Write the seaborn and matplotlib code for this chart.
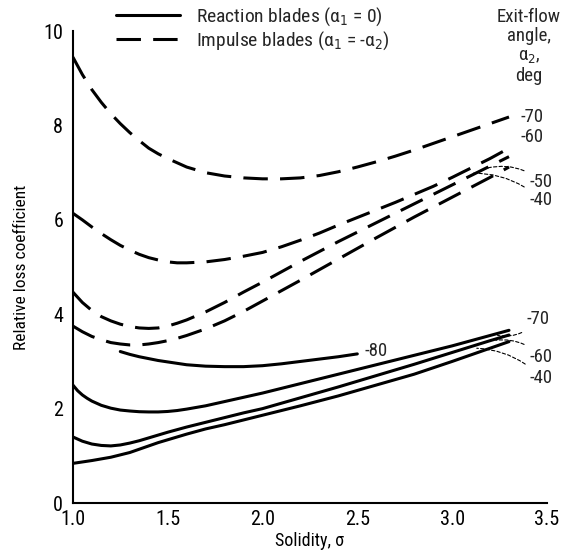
import numpy as np
import pandas as pd
import matplotlib
matplotlib.use("Agg")
import matplotlib.pyplot as plt
from matplotlib.lines import Line2D
from matplotlib import font_manager
import seaborn as sns

# ---- data ----
imp70_x = [1.0, 1.05, 1.1, 1.15, 1.2, 1.25, 1.3, 1.35, 1.4, 1.45, 1.5, 1.6, 1.7, 1.8, 1.9, 2.0, 2.1, 2.2, 2.3, 2.4, 2.5, 2.6, 2.7, 2.8, 2.9, 3.0, 3.1, 3.2, 3.3]
imp70_y = [9.45, 9.08, 8.76, 8.49, 8.25, 8.04, 7.85, 7.68, 7.52, 7.40, 7.30, 7.12, 7.00, 6.93, 6.89, 6.87, 6.87, 6.89, 6.94, 7.02, 7.12, 7.23, 7.35, 7.48, 7.62, 7.76, 7.90, 8.04, 8.18]

imp60_x = [1.0, 1.05, 1.1, 1.15, 1.2, 1.25, 1.3, 1.35, 1.4, 1.45, 1.5, 1.55, 1.6, 1.65, 1.7, 1.8, 1.9, 2.0, 2.1, 2.2, 2.3, 2.4, 2.5, 2.6, 2.7, 2.8, 2.9, 3.0, 3.1, 3.2, 3.3]
imp60_y = [6.14, 6.00, 5.85, 5.71, 5.58, 5.46, 5.36, 5.27, 5.20, 5.15, 5.11, 5.09, 5.09, 5.10, 5.11, 5.16, 5.23, 5.31, 5.43, 5.57, 5.72, 5.89, 6.05, 6.21, 6.37, 6.54, 6.71, 6.90, 7.10, 7.30, 7.52]

imp50_x = [1.0, 1.05, 1.1, 1.15, 1.2, 1.25, 1.3, 1.35, 1.4, 1.45, 1.5, 1.55, 1.6, 1.7, 1.8, 1.9, 2.0, 2.2, 2.4, 2.6, 2.8, 3.0, 3.2, 3.3]
imp50_y = [4.47, 4.25, 4.08, 3.95, 3.86, 3.79, 3.74, 3.71, 3.70, 3.71, 3.75, 3.81, 3.88, 4.05, 4.25, 4.47, 4.68, 5.12, 5.54, 5.94, 6.34, 6.74, 7.14, 7.34]

imp40_x = [1.0, 1.05, 1.1, 1.15, 1.2, 1.25, 1.3, 1.35, 1.4, 1.45, 1.5, 1.55, 1.6, 1.7, 1.8, 1.9, 2.0, 2.2, 2.4, 2.6, 2.8, 3.0, 3.2, 3.3]
imp40_y = [3.75, 3.63, 3.53, 3.46, 3.40, 3.37, 3.35, 3.35, 3.37, 3.40, 3.44, 3.49, 3.55, 3.69, 3.86, 4.06, 4.28, 4.72, 5.17, 5.62, 6.06, 6.48, 6.90, 7.12]

rea80_x = [1.25, 1.3, 1.35, 1.4, 1.45, 1.5, 1.55, 1.6, 1.65, 1.7, 1.8, 1.9, 2.0, 2.1, 2.2, 2.3, 2.4, 2.5]
rea80_y = [3.21, 3.15, 3.10, 3.06, 3.02, 2.99, 2.96, 2.93, 2.915, 2.90, 2.89, 2.89, 2.91, 2.95, 3.00, 3.05, 3.10, 3.16]

rea70_x = [1.0, 1.025, 1.05, 1.075, 1.1, 1.15, 1.2, 1.25, 1.3, 1.35, 1.4, 1.45, 1.5, 1.55, 1.6, 1.7, 1.8, 1.9, 2.0, 2.2, 2.4, 2.6, 2.8, 3.0, 3.2, 3.3]
rea70_y = [2.50, 2.38, 2.29, 2.22, 2.16, 2.07, 2.01, 1.97, 1.95, 1.935, 1.93, 1.93, 1.94, 1.96, 1.99, 2.06, 2.15, 2.24, 2.33, 2.53, 2.73, 2.93, 3.13, 3.33, 3.55, 3.66]

rea60_x = [1.0, 1.05, 1.1, 1.15, 1.2, 1.25, 1.3, 1.35, 1.4, 1.45, 1.5, 1.6, 1.7, 1.8, 1.9, 2.0, 2.2, 2.4, 2.6, 2.8, 3.0, 3.2, 3.3]
rea60_y = [1.40, 1.31, 1.25, 1.22, 1.21, 1.23, 1.27, 1.32, 1.38, 1.44, 1.50, 1.61, 1.71, 1.81, 1.91, 2.00, 2.23, 2.46, 2.70, 2.94, 3.19, 3.44, 3.56]

rea40_x = [1.0, 1.1, 1.2, 1.3, 1.35, 1.4, 1.45, 1.5, 1.6, 1.7, 1.8, 1.9, 2.0, 2.2, 2.4, 2.6, 2.8, 3.0, 3.2, 3.3]
rea40_y = [0.84, 0.90, 0.97, 1.07, 1.14, 1.21, 1.28, 1.34, 1.46, 1.57, 1.66, 1.76, 1.86, 2.06, 2.27, 2.50, 2.73, 3.00, 3.28, 3.42]

x_ticks = [1.0, 1.5, 2.0, 2.5, 3.0, 3.5]
x_tick_labels = ["1.0", "1.5", "2.0", "2.5", "3.0", "3.5"]
y_ticks = [0, 2, 4, 6, 8, 10]
y_tick_labels = ["0", "2", "4", "6", "8", "10"]

legend_labels = ["Reaction blades (α$_1$ = 0)", "Impulse blades (α$_1$ = -α$_2$)"]

# ---- style ----
sns.set_style("white")
names = {f.name for f in font_manager.fontManager.ttflist}
fams = [n for n in ["Liberation Sans Narrow", "Roboto Condensed", "Open Sans Condensed"] if n in names]
plt.rcParams["font.family"] = fams + ["DejaVu Sans"]
plt.rcParams["font.stretch"] = "condensed"
plt.rcParams["mathtext.fontset"] = "dejavusans"

FS = 14
FS_LBL = 13.5
FS_TICK = 14.5
fig = plt.figure(figsize=(5.65, 5.56), dpi=100)
ax = fig.add_axes([0.129, 0.0953, 0.968 - 0.129, 0.944 - 0.0953])

LW = 2.2
DASH = (0, (8, 4))

for xs, ys in [(imp70_x, imp70_y), (imp60_x, imp60_y), (imp50_x, imp50_y), (imp40_x, imp40_y)]:
    sns.lineplot(x=xs, y=ys, ax=ax, color="black", linewidth=LW, linestyle=DASH)
for xs, ys in [(rea80_x, rea80_y), (rea70_x, rea70_y), (rea60_x, rea60_y), (rea40_x, rea40_y)]:
    sns.lineplot(x=xs, y=ys, ax=ax, color="black", linewidth=LW, linestyle="-")

ax.set_xlim(1.0, 3.5)
ax.set_ylim(0, 10)
ax.set_xticks(x_ticks)
ax.set_xticklabels(x_tick_labels)
ax.set_yticks(y_ticks)
ax.set_yticklabels(y_tick_labels)
ax.tick_params(axis="both", direction="in", length=16, width=1.5, labelsize=FS_TICK, color="black", labelcolor="black")
ax.tick_params(axis="x", pad=5)
ax.tick_params(axis="y", pad=7)
for s in ["top", "right"]:
    ax.spines[s].set_visible(False)
for s in ["left", "bottom"]:
    ax.spines[s].set_color("black")
    ax.spines[s].set_linewidth(1.5)

ax.set_xlabel("Solidity, σ", fontsize=13, color="black", labelpad=2)
ax.set_ylabel("Relative loss coefficient", fontsize=12.5, color="black", labelpad=10)

# legend
handles = [Line2D([], [], color="black", lw=LW, ls="-"),
           Line2D([], [], color="black", lw=LW, ls=DASH)]
ax.legend(handles, legend_labels, loc="upper left", bbox_to_anchor=(0.075, 1.07),
          frameon=False, fontsize=FS, handlelength=3.3, handletextpad=0.8,
          labelspacing=0.05, borderaxespad=0)

# header on right
ax.text(3.405, 10.5, "Exit-flow\nangle,\nα$_2$,\ndeg", ha="center", va="top",
        fontsize=13.5, linespacing=1.1, clip_on=False)

# curve labels
ax.text(2.54, 3.22, "-80", ha="left", va="center", fontsize=FS_LBL)
ax.text(3.36, 8.18, "-70", ha="left", va="center", fontsize=FS_LBL, clip_on=False)
ax.text(3.36, 7.75, "-60", ha="left", va="center", fontsize=FS_LBL, clip_on=False)

lead = dict(arrowstyle="-", color="black", lw=0.8, ls=(0, (3, 2)), shrinkA=2, shrinkB=0)
ax.annotate("-50", xy=(3.185, 7.10), xytext=(3.41, 6.81), ha="left", va="center",
            fontsize=FS_LBL, annotation_clip=False,
            arrowprops=dict(lead, connectionstyle="arc3,rad=0.25"))
ax.annotate("-40", xy=(3.106, 6.99), xytext=(3.41, 6.42), ha="left", va="center",
            fontsize=FS_LBL, annotation_clip=False,
            arrowprops=dict(lead, connectionstyle="arc3,rad=0.2"))
ax.annotate("-70", xy=(3.24, 3.55), xytext=(3.39, 3.90), ha="left", va="center",
            fontsize=FS_LBL, annotation_clip=False,
            arrowprops=dict(lead, connectionstyle="arc3,rad=-0.3"))
ax.annotate("-60", xy=(3.23, 3.45), xytext=(3.41, 3.09), ha="left", va="center",
            fontsize=FS_LBL, annotation_clip=False,
            arrowprops=dict(lead, connectionstyle="arc3,rad=0.25"))
ax.annotate("-40", xy=(3.13, 3.28), xytext=(3.41, 2.65), ha="left", va="center",
            fontsize=FS_LBL, annotation_clip=False,
            arrowprops=dict(lead, connectionstyle="arc3,rad=0.2"))

fig.savefig("out.png", dpi=100)
